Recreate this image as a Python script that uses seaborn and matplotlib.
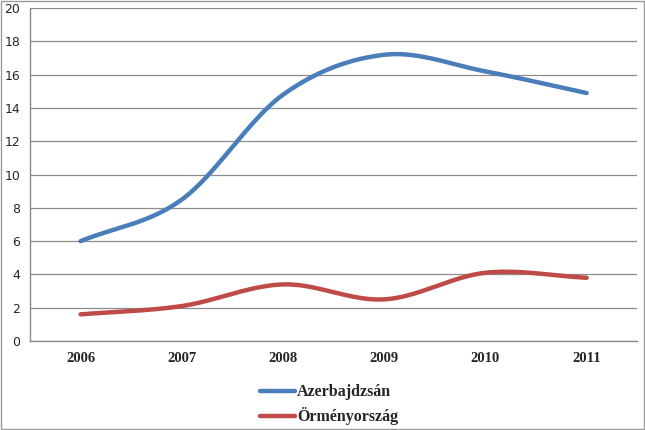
import numpy as np
import pandas as pd
import seaborn as sns
import matplotlib.pyplot as plt
from matplotlib.patches import Rectangle

years = ['2006', '2007', '2008', '2009', '2010', '2011']
azerbajdzsan = [6.0, 8.5, 14.8, 17.2, 16.2, 14.9]
ormenyorszag = [1.6, 2.1, 3.4, 2.5, 4.1, 3.8]
series_names = ['Azerbajdzsán', 'Örményország']
colors = ['#4A7EBB', '#BE4B48']


def smooth(y, n=40):
    # Catmull-Rom style smoothing like Excel's "smoothed line"
    x = np.arange(len(y), dtype=float)
    y = np.asarray(y, dtype=float)
    px = np.concatenate([[2 * x[0] - x[1]], x, [2 * x[-1] - x[-2]]])
    py = np.concatenate([[2 * y[0] - y[1]], y, [2 * y[-1] - y[-2]]])
    xs, ys = [], []
    for i in range(1, len(px) - 2):
        t = np.linspace(0, 1, n, endpoint=(i == len(px) - 3))
        for arr, out in ((px, xs), (py, ys)):
            p0, p1, p2, p3 = arr[i - 1], arr[i], arr[i + 1], arr[i + 2]
            out.append(0.5 * (2 * p1 + (-p0 + p2) * t
                              + (2 * p0 - 5 * p1 + 4 * p2 - p3) * t ** 2
                              + (-p0 + 3 * p1 - 3 * p2 + p3) * t ** 3))
    return np.concatenate(xs), np.concatenate(ys)


frames = []
for name, vals in zip(series_names, [azerbajdzsan, ormenyorszag]):
    sx, sy = smooth(vals)
    frames.append(pd.DataFrame({'x': sx, 'y': sy, 'series': name}))
df = pd.concat(frames, ignore_index=True)

sns.set_style('white')
fig = plt.figure(figsize=(6.45, 4.3), dpi=100)
ax = fig.add_axes([0.0465, 0.207, 0.9415, 0.774])

sns.lineplot(data=df, x='x', y='y', hue='series', palette=colors,
             linewidth=3.2, sort=False, estimator=None, ax=ax, legend=False)

ax.set_xlim(-0.5, 5.5)
ax.set_ylim(0, 20)
ax.set_yticks(range(0, 21, 2))
ax.set_xticks(range(len(years)))
ax.set_xticklabels(years, fontfamily='Liberation Serif', fontweight='bold', fontsize=10.5)
ax.set_xticks(np.arange(-0.5, 6, 1), minor=True)
ax.tick_params(axis='x', which='major', length=0, pad=8)
ax.tick_params(axis='x', which='minor', length=5, color='#888888', width=1)
ax.tick_params(axis='y', length=4, color='#888888', labelsize=9, pad=3)
ax.grid(axis='y', color='#8c8c8c', linewidth=0.9)
ax.set_xlabel('')
ax.set_ylabel('')
for s in ['top', 'right']:
    ax.spines[s].set_visible(False)
for s in ['left', 'bottom']:
    ax.spines[s].set_color('#8c8c8c')
    ax.spines[s].set_linewidth(1)

handles = [plt.Line2D([], [], color=c, linewidth=3.2) for c in colors]
fig.legend(handles, series_names, loc='upper center', bbox_to_anchor=(0.51, 0.14),
           frameon=False, handlelength=2.2, handletextpad=0.1, labelspacing=0.45,
           prop={'family': 'Liberation Serif', 'weight': 'bold', 'size': 11.5})

fig.add_artist(Rectangle((0.001, 0.003), 0.997, 0.994, transform=fig.transFigure,
                         fill=False, edgecolor='#9a9a9a', linewidth=1))

fig.savefig('out.png', dpi=100)
